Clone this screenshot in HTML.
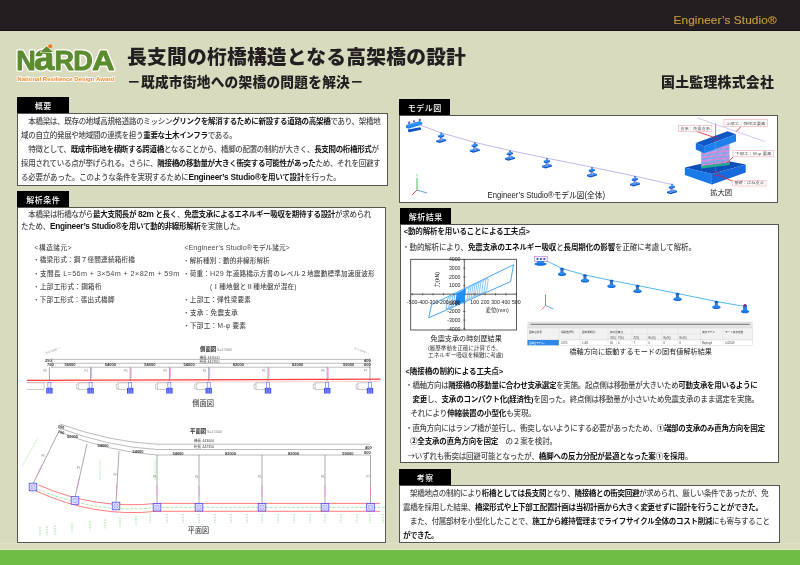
<!DOCTYPE html>
<html lang="ja"><head><meta charset="utf-8">
<title>長支間の桁橋構造となる高架橋の設計</title>
<style>
*{margin:0;padding:0;box-sizing:border-box}
html,body{width:800px;height:565px;overflow:hidden}
body{background:#d9dbbf;position:relative;font-family:"Liberation Sans","Noto Sans CJK JP",sans-serif;color:#4a4a4a}
.a{position:absolute}
#hdr{left:0;top:0;width:800px;height:31px;background:#231f20;border-bottom:1px solid #151112}
#es{left:673.5px;top:12.6px;font-size:11.8px;color:#c99a3e;white-space:nowrap;letter-spacing:0.1px;-webkit-text-stroke:0.15px #c99a3e}
#title{left:127px;top:41px;font-size:19.8px;font-weight:900;color:#231f20;white-space:nowrap;letter-spacing:0.2px}
#sub{left:127px;top:71px;font-size:13.7px;font-weight:900;letter-spacing:0.25px;color:#231f20;white-space:nowrap}
#co{left:661px;top:71px;font-size:13.9px;font-weight:900;letter-spacing:0.25px;color:#231f20;white-space:nowrap}
.box{position:absolute;background:#fff;border:1px solid #55554e}
.tab{position:absolute;background:#000;color:#fff;font-size:8px;letter-spacing:0.5px;text-indent:0.5px;text-align:center;font-weight:500;line-height:15px;height:16px;padding-top:2.2px}
.t{position:absolute;white-space:nowrap;line-height:10px;height:10px;font-weight:500}
.en{font-size:1.1em}
.jp{font-family:"Noto Sans CJK JP",sans-serif}
.t b{color:#111}
.j{text-align:justify;text-align-last:justify}
#foot{left:0;top:550px;width:800px;height:15px;background:#70bd46}
#band{left:0;top:543px;width:800px;height:7px;background:linear-gradient(#e6e9cc 0,#dadcc0 15%,#dadcc0 55%,#dddbc0 80%,#e4ead0 100%)}
.cap{position:absolute;white-space:nowrap;color:#222}
</style></head>
<body>
<div id="hdr" class="a"></div>
<div id="es" class="a">Engineer’s Studio®</div>



<div id="title" class="a">長支間の桁橋構造となる高架橋の設計</div>
<div id="sub" class="a">－既成市街地への架橋の問題を解決－</div>
<div id="co" class="a">国土監理株式会社</div>

<!-- boxes -->
<div class="box" style="left:17px;top:113px;width:371px;height:73px"></div>
<div class="tab" style="left:17px;top:97px;width:52px">概要</div>

<div class="box" style="left:17px;top:207px;width:369px;height:336px"></div>
<div class="tab" style="left:17px;top:191px;width:52px">解析条件</div>

<div class="box" style="left:399px;top:115px;width:379px;height:88px"></div>
<div class="tab" style="left:399px;top:99px;width:51px">モデル図</div>

<div class="box" style="left:400px;top:224px;width:379px;height:239px"></div>
<div class="tab" style="left:400px;top:208px;width:51px">解析結果</div>

<div class="box" style="left:399px;top:485px;width:381px;height:58px"></div>
<div class="tab" style="left:399px;top:469px;width:52px">考察</div>

<svg class="a" style="left:0;top:0" width="800" height="565" viewBox="0 0 800 565" font-family="Liberation Sans, Noto Sans CJK JP, sans-serif">
<path d="M420,125 L441.2,132.8 L474.8,142.4 L510,150.5 L547,158.2 L592,167.2 L635,176.2 L672,184.5" fill="none" stroke="#b3a6e6" stroke-width="0.8"/>
<path d="M436.2,140.4 L442.7,138.4 L446.2,139.60000000000002 L439.7,141.60000000000002 Z" fill="#2a86f0"/>
<path d="M436.2,140.4 L439.7,141.60000000000002 L446.2,139.60000000000002 L446.2,141.10000000000002 L439.7,143.10000000000002 L436.2,141.9 Z" fill="#1058c8"/>
<rect x="439.9" y="136.60000000000002" width="2.6" height="3.6" fill="#9aa6dc"/>
<rect x="439.9" y="136.60000000000002" width="1" height="3.6" fill="#7f7fc8"/>
<path d="M438.0,135.4 L441.8,134.0 L444.2,134.8 L440.4,136.20000000000002 Z" fill="#2a8af2"/>
<path d="M438.0,135.4 L440.4,136.20000000000002 L444.2,134.8 L444.2,136.4 L440.4,137.8 L438.0,137.0 Z" fill="#1463d8"/>
<rect x="440.3" y="132.60000000000002" width="1.8" height="1.8" fill="#3b7ee0"/>
<path d="M469.8,150.0 L476.3,148.0 L479.8,149.20000000000002 L473.3,151.20000000000002 Z" fill="#2a86f0"/>
<path d="M469.8,150.0 L473.3,151.20000000000002 L479.8,149.20000000000002 L479.8,150.70000000000002 L473.3,152.70000000000002 L469.8,151.5 Z" fill="#1058c8"/>
<rect x="473.5" y="146.20000000000002" width="2.6" height="3.6" fill="#9aa6dc"/>
<rect x="473.5" y="146.20000000000002" width="1" height="3.6" fill="#7f7fc8"/>
<path d="M471.6,145.0 L475.40000000000003,143.6 L477.8,144.4 L474.0,145.8 Z" fill="#2a8af2"/>
<path d="M471.6,145.0 L474.0,145.8 L477.8,144.4 L477.8,146.0 L474.0,147.4 L471.6,146.6 Z" fill="#1463d8"/>
<rect x="473.90000000000003" y="142.20000000000002" width="1.8" height="1.8" fill="#3b7ee0"/>
<path d="M505,158.1 L511.5,156.1 L515,157.3 L508.5,159.3 Z" fill="#2a86f0"/>
<path d="M505,158.1 L508.5,159.3 L515,157.3 L515,158.8 L508.5,160.8 L505,159.6 Z" fill="#1058c8"/>
<rect x="508.7" y="154.3" width="2.6" height="3.6" fill="#9aa6dc"/>
<rect x="508.7" y="154.3" width="1" height="3.6" fill="#7f7fc8"/>
<path d="M506.8,153.1 L510.6,151.7 L513,152.5 L509.2,153.9 Z" fill="#2a8af2"/>
<path d="M506.8,153.1 L509.2,153.9 L513,152.5 L513,154.1 L509.2,155.5 L506.8,154.7 Z" fill="#1463d8"/>
<rect x="509.1" y="150.3" width="1.8" height="1.8" fill="#3b7ee0"/>
<path d="M542,165.79999999999998 L548.5,163.79999999999998 L552,165.0 L545.5,167.0 Z" fill="#2a86f0"/>
<path d="M542,165.79999999999998 L545.5,167.0 L552,165.0 L552,166.5 L545.5,168.5 L542,167.29999999999998 Z" fill="#1058c8"/>
<rect x="545.7" y="162.0" width="2.6" height="3.6" fill="#9aa6dc"/>
<rect x="545.7" y="162.0" width="1" height="3.6" fill="#7f7fc8"/>
<path d="M543.8,160.79999999999998 L547.6,159.39999999999998 L550,160.2 L546.2,161.6 Z" fill="#2a8af2"/>
<path d="M543.8,160.79999999999998 L546.2,161.6 L550,160.2 L550,161.79999999999998 L546.2,163.2 L543.8,162.39999999999998 Z" fill="#1463d8"/>
<rect x="546.1" y="158.0" width="1.8" height="1.8" fill="#3b7ee0"/>
<path d="M587,174.79999999999998 L593.5,172.79999999999998 L597,174.0 L590.5,176.0 Z" fill="#2a86f0"/>
<path d="M587,174.79999999999998 L590.5,176.0 L597,174.0 L597,175.5 L590.5,177.5 L587,176.29999999999998 Z" fill="#1058c8"/>
<rect x="590.7" y="171.0" width="2.6" height="3.6" fill="#9aa6dc"/>
<rect x="590.7" y="171.0" width="1" height="3.6" fill="#7f7fc8"/>
<path d="M588.8,169.79999999999998 L592.6,168.39999999999998 L595,169.2 L591.2,170.6 Z" fill="#2a8af2"/>
<path d="M588.8,169.79999999999998 L591.2,170.6 L595,169.2 L595,170.79999999999998 L591.2,172.2 L588.8,171.39999999999998 Z" fill="#1463d8"/>
<rect x="591.1" y="167.0" width="1.8" height="1.8" fill="#3b7ee0"/>
<path d="M630,183.79999999999998 L636.5,181.79999999999998 L640,183.0 L633.5,185.0 Z" fill="#2a86f0"/>
<path d="M630,183.79999999999998 L633.5,185.0 L640,183.0 L640,184.5 L633.5,186.5 L630,185.29999999999998 Z" fill="#1058c8"/>
<rect x="633.7" y="180.0" width="2.6" height="3.6" fill="#9aa6dc"/>
<rect x="633.7" y="180.0" width="1" height="3.6" fill="#7f7fc8"/>
<path d="M631.8,178.79999999999998 L635.6,177.39999999999998 L638,178.2 L634.2,179.6 Z" fill="#2a8af2"/>
<path d="M631.8,178.79999999999998 L634.2,179.6 L638,178.2 L638,179.79999999999998 L634.2,181.2 L631.8,180.39999999999998 Z" fill="#1463d8"/>
<rect x="634.1" y="176.0" width="1.8" height="1.8" fill="#3b7ee0"/>
<path d="M408,129.6 L420,127.2 L421,128.2 L421,129.8 L409,132.2 L408,131.2 Z" fill="#0f50c2"/>
<path d="M406,125.2 L419.5,121.2 L422.2,122.4 L422.2,124.6 L408.6,128.8 L406,127.8 Z" fill="#1e88f0"/>
<path d="M406,125.2 L419.5,121.2 L422.2,122.4 L408.6,126.4 Z" fill="#2f95f4"/>
<rect x="408.2" y="121.6" width="2" height="2.4" rx="0.6" fill="#6a5ad0"/>
<rect x="413" y="120.2" width="2" height="2.4" rx="0.6" fill="#6a5ad0"/>
<rect x="418.8" y="118.8" width="2" height="2.4" rx="0.6" fill="#6a5ad0"/>
<path d="M667,191.6 L673.5,189.6 L677,190.8 L670.5,192.8 Z" fill="#2a86f0"/>
<path d="M667,191.6 L670.5,192.8 L677,190.8 L677,192.3 L670.5,194.3 L667,193.1 Z" fill="#1058c8"/>
<rect x="670.7" y="187.8" width="2.6" height="3.6" fill="#9aa6dc"/>
<rect x="670.7" y="187.8" width="1" height="3.6" fill="#7f7fc8"/>
<path d="M668.8,186.6 L672.6,185.2 L675,186 L671.2,187.4 Z" fill="#2a8af2"/>
<path d="M668.8,186.6 L671.2,187.4 L675,186 L675,187.6 L671.2,189 L668.8,188.2 Z" fill="#1463d8"/>
<rect x="671.1" y="183.8" width="1.8" height="1.8" fill="#3b7ee0"/>
<line x1="417" y1="190" x2="417" y2="178" stroke="#3db34a" stroke-width="0.9"/>
<line x1="417" y1="190" x2="412" y2="195" stroke="#e84040" stroke-width="0.9"/>
<line x1="417" y1="190" x2="427" y2="193" stroke="#4a90e0" stroke-width="0.9"/>
<text x="416" y="177" font-size="3" fill="#3db34a">Y</text>
<text x="487.5" y="198" font-size="8.4" fill="#222" textLength="117.5" lengthAdjust="spacingAndGlyphs">Engineer’s Studio®モデル図(全体)</text>
<line x1="697.5" y1="118" x2="765" y2="141.5" stroke="#c6bcef" stroke-width="0.8"/>
<line x1="715.6" y1="123.5" x2="715.6" y2="138" stroke="#4fb8f0" stroke-width="1"/>
<path d="M684.8,167.6 L720,159.6 L745.7,164.6 L711.9,174 Z" fill="#0c4fb8"/>
<path d="M684.8,167.6 L711.9,174 L711.9,184.6 L684.8,175 Z" fill="#1a7be8"/>
<path d="M711.9,174 L745.7,164.6 L745.7,172.5 L711.9,184.6 Z" fill="#1769dc"/>
<path d="M701.2,147.50 L729.5,143.90 L729.5,146.05 L701.2,149.65 Z" fill="#7fa6ea"/>
<path d="M701.2,149.35 L729.5,145.75 L729.5,147.90 L701.2,151.50 Z" fill="#d08ad6"/>
<path d="M701.2,151.20 L729.5,147.60 L729.5,149.75 L701.2,153.35 Z" fill="#7fa6ea"/>
<path d="M701.2,153.05 L729.5,149.45 L729.5,151.60 L701.2,155.20 Z" fill="#d08ad6"/>
<path d="M701.2,154.90 L729.5,151.30 L729.5,153.45 L701.2,157.05 Z" fill="#7fa6ea"/>
<path d="M701.2,156.75 L729.5,153.15 L729.5,155.30 L701.2,158.90 Z" fill="#d08ad6"/>
<path d="M701.2,158.60 L729.5,155.00 L729.5,157.15 L701.2,160.75 Z" fill="#7fa6ea"/>
<path d="M701.2,160.45 L729.5,156.85 L729.5,159.00 L701.2,162.60 Z" fill="#d08ad6"/>
<path d="M701.2,162.30 L729.5,158.70 L729.5,160.85 L701.2,164.45 Z" fill="#7fa6ea"/>
<path d="M701.2,164.15 L729.5,160.55 L729.5,162.70 L701.2,166.30 Z" fill="#d08ad6"/>
<path d="M701.2,166.00 L729.5,162.40 L729.5,165.00 L701.2,168.60 Z" fill="#22b08a"/>
<path d="M695.8,143 L727.5,131.2 L736,134.2 L704.2,146.3 Z" fill="#1157c4"/>
<path d="M695.8,143 L704.2,146.3 L704.2,153.2 L695.8,149.6 Z" fill="#1a6fdc"/>
<path d="M704.2,146.3 L736,134.2 L736,141.5 L704.2,153.2 Z" fill="#1f80ec"/>
<line x1="715.6" y1="140" x2="715.6" y2="172" stroke="#9fb8e8" stroke-width="0.6" stroke-dasharray="1,1.5"/>
<g stroke="#e02020" stroke-width="0.8" fill="none"><line x1="697" y1="131.5" x2="713.5" y2="137.2"/><line x1="741" y1="126.5" x2="736" y2="131.8"/><line x1="733" y1="157" x2="727" y2="163"/><line x1="733" y1="181.5" x2="717.5" y2="174.5"/><circle cx="715.6" cy="138.3" r="2.2" stroke="#d02040" stroke-width="0.5"/><circle cx="715.6" cy="173.8" r="2.2" stroke="#d02040" stroke-width="0.5"/></g>
<rect x="678.3" y="125.3" width="33.60000000000002" height="6.000000000000014" fill="#fff" stroke="#f0a8b0" stroke-width="0.6"/>
<text x="695.0999999999999" y="129.70000000000002" font-size="3.9" fill="#555" text-anchor="middle" textLength="29.600000000000023" lengthAdjust="spacingAndGlyphs">支承：免震支承</text>
<rect x="723.9" y="119.5" width="43.60000000000002" height="6.799999999999997" fill="#fff" stroke="#f0a8b0" stroke-width="0.6"/>
<text x="745.7" y="124.7" font-size="3.9" fill="#555" text-anchor="middle" textLength="39.60000000000002" lengthAdjust="spacingAndGlyphs">上部工：弾性梁要素</text>
<rect x="732.9" y="150.6" width="40.60000000000002" height="6.200000000000017" fill="#fff" stroke="#f0a8b0" stroke-width="0.6"/>
<text x="753.2" y="155.20000000000002" font-size="3.9" fill="#555" text-anchor="middle" textLength="36.60000000000002" lengthAdjust="spacingAndGlyphs">下部工：M-φ 要素</text>
<rect x="732.2" y="180.4" width="33.799999999999955" height="5.599999999999994" fill="#fff" stroke="#f0a8b0" stroke-width="0.6"/>
<text x="749.1" y="184.4" font-size="3.9" fill="#555" text-anchor="middle" textLength="29.799999999999955" lengthAdjust="spacingAndGlyphs">基礎：ばね支点</text>
<text x="710.2" y="194.6" font-size="7.4" fill="#222" textLength="22" lengthAdjust="spacingAndGlyphs">拡大図</text>
<rect x="410.7" y="259.3" width="105.69999999999999" height="70.69999999999999" fill="#fff" stroke="#333" stroke-width="0.8"/>
<line x1="464.3" y1="259.3" x2="464.3" y2="330" stroke="#333" stroke-width="0.8"/>
<line x1="410.7" y1="294.2" x2="516.4" y2="294.2" stroke="#333" stroke-width="0.8"/>
<line x1="412.3" y1="293.0" x2="412.3" y2="295.4" stroke="#333" stroke-width="0.6"/>
<line x1="422.7" y1="293.0" x2="422.7" y2="295.4" stroke="#333" stroke-width="0.6"/>
<line x1="433.1" y1="293.0" x2="433.1" y2="295.4" stroke="#333" stroke-width="0.6"/>
<line x1="443.5" y1="293.0" x2="443.5" y2="295.4" stroke="#333" stroke-width="0.6"/>
<line x1="453.9" y1="293.0" x2="453.9" y2="295.4" stroke="#333" stroke-width="0.6"/>
<line x1="464.3" y1="293.0" x2="464.3" y2="295.4" stroke="#333" stroke-width="0.6"/>
<line x1="474.7" y1="293.0" x2="474.7" y2="295.4" stroke="#333" stroke-width="0.6"/>
<line x1="485.1" y1="293.0" x2="485.1" y2="295.4" stroke="#333" stroke-width="0.6"/>
<line x1="495.5" y1="293.0" x2="495.5" y2="295.4" stroke="#333" stroke-width="0.6"/>
<line x1="505.9" y1="293.0" x2="505.9" y2="295.4" stroke="#333" stroke-width="0.6"/>
<line x1="516.3" y1="293.0" x2="516.3" y2="295.4" stroke="#333" stroke-width="0.6"/>
<line x1="463.1" y1="328.8" x2="465.5" y2="328.8" stroke="#333" stroke-width="0.6"/>
<line x1="463.1" y1="320.1" x2="465.5" y2="320.1" stroke="#333" stroke-width="0.6"/>
<line x1="463.1" y1="311.5" x2="465.5" y2="311.5" stroke="#333" stroke-width="0.6"/>
<line x1="463.1" y1="302.8" x2="465.5" y2="302.8" stroke="#333" stroke-width="0.6"/>
<line x1="463.1" y1="294.2" x2="465.5" y2="294.2" stroke="#333" stroke-width="0.6"/>
<line x1="463.1" y1="285.6" x2="465.5" y2="285.6" stroke="#333" stroke-width="0.6"/>
<line x1="463.1" y1="276.9" x2="465.5" y2="276.9" stroke="#333" stroke-width="0.6"/>
<line x1="463.1" y1="268.2" x2="465.5" y2="268.2" stroke="#333" stroke-width="0.6"/>
<line x1="463.1" y1="259.6" x2="465.5" y2="259.6" stroke="#333" stroke-width="0.6"/>
<path d="M428.7,317.8 L431.6,304.6 L513.5,264.8 L510.6,281.6 Z" fill="none" stroke="#1f8ef0" stroke-width="0.8"/>
<line x1="447.8" y1="298.6" x2="446.2" y2="308.7" stroke="#1f8ef0" stroke-width="0.6"/>
<line x1="450.3" y1="297.4" x2="448.7" y2="307.6" stroke="#1f8ef0" stroke-width="0.6"/>
<line x1="452.8" y1="296.2" x2="451.2" y2="306.5" stroke="#1f8ef0" stroke-width="0.6"/>
<line x1="454.8" y1="295.2" x2="453.2" y2="305.6" stroke="#1f8ef0" stroke-width="0.6"/>
<path d="M447.8,298.2 L454.8,294.8 M446.2,309.1 L453.2,306.0" stroke="#1f8ef0" stroke-width="0.6"/>
<path d="M456.5,293.3 L466,288.7 L464.5,301.5 L455,305.7 Z" fill="#1f8ef0"/>
<line x1="468.8" y1="288.1" x2="467.2" y2="299.2" stroke="#1f8ef0" stroke-width="0.5"/>
<line x1="470.8" y1="287.1" x2="469.2" y2="298.3" stroke="#1f8ef0" stroke-width="0.5"/>
<line x1="472.8" y1="286.2" x2="471.2" y2="297.5" stroke="#1f8ef0" stroke-width="0.5"/>
<line x1="474.8" y1="285.2" x2="473.2" y2="296.6" stroke="#1f8ef0" stroke-width="0.5"/>
<line x1="476.8" y1="284.2" x2="475.2" y2="295.7" stroke="#1f8ef0" stroke-width="0.5"/>
<line x1="478.8" y1="283.3" x2="477.2" y2="294.8" stroke="#1f8ef0" stroke-width="0.5"/>
<line x1="480.8" y1="282.3" x2="479.2" y2="293.9" stroke="#1f8ef0" stroke-width="0.5"/>
<line x1="483.3" y1="281.1" x2="481.7" y2="292.8" stroke="#1f8ef0" stroke-width="0.5"/>
<line x1="485.8" y1="279.8" x2="484.2" y2="291.7" stroke="#1f8ef0" stroke-width="0.5"/>
<line x1="488.3" y1="278.6" x2="486.7" y2="290.6" stroke="#1f8ef0" stroke-width="0.5"/>
<path d="M466,289.1 L488.3,278.2 M464.5,300.8 L486.7,291.0" stroke="#1f8ef0" stroke-width="0.5"/>
<text x="460.5" y="261.4" font-size="5.2" fill="#222" text-anchor="end">4000</text>
<text x="460.5" y="270.1" font-size="5.2" fill="#222" text-anchor="end">3000</text>
<text x="460.5" y="278.7" font-size="5.2" fill="#222" text-anchor="end">2000</text>
<text x="460.5" y="287.4" font-size="5.2" fill="#222" text-anchor="end">1000</text>
<text x="460.5" y="304.6" font-size="5.2" fill="#222" text-anchor="end">-1000</text>
<text x="460.5" y="313.3" font-size="5.2" fill="#222" text-anchor="end">-2000</text>
<text x="460.5" y="321.9" font-size="5.2" fill="#222" text-anchor="end">-3000</text>
<text x="460.5" y="330.6" font-size="5.2" fill="#222" text-anchor="end">-4000</text>
<text x="412.3" y="303.6" font-size="5.2" fill="#222" text-anchor="middle">-500</text>
<text x="422.7" y="303.6" font-size="5.2" fill="#222" text-anchor="middle">-400</text>
<text x="433.1" y="303.6" font-size="5.2" fill="#222" text-anchor="middle">-300</text>
<text x="443.5" y="303.6" font-size="5.2" fill="#222" text-anchor="middle">-200</text>
<text x="453.9" y="303.6" font-size="5.2" fill="#222" text-anchor="middle">-100</text>
<text x="474.7" y="303.6" font-size="5.2" fill="#222" text-anchor="middle">100</text>
<text x="485.1" y="303.6" font-size="5.2" fill="#222" text-anchor="middle">200</text>
<text x="495.5" y="303.6" font-size="5.2" fill="#222" text-anchor="middle">300</text>
<text x="505.9" y="303.6" font-size="5.2" fill="#222" text-anchor="middle">400</text>
<text x="516.3" y="303.6" font-size="5.2" fill="#222" text-anchor="middle">500</text>
<text x="0" y="0" font-size="5.4" fill="#222" transform="translate(439.3,287.5) rotate(-90)">力(kN)</text>
<text x="485.5" y="311.6" font-size="5.4" fill="#222">変位(mm)</text>
<text x="430.6" y="340.9" font-size="7.2" fill="#222" textLength="71.3" lengthAdjust="spacingAndGlyphs">免震支承の時刻歴結果</text>
<text x="428" y="349.6" font-size="5.3" fill="#333" textLength="73.2" lengthAdjust="spacingAndGlyphs">(履歴挙動を正確に計算でき、</text>
<text x="428" y="357.4" font-size="5.3" fill="#333" textLength="75.5" lengthAdjust="spacingAndGlyphs">エネルギー吸収を精緻に考慮)</text>
<path d="M547,261 L562,268.5 L585,275 L611.5,280.5 L637.5,285.5 L677.5,293.5 L716.4,301.5 L745,306.5" fill="none" stroke="#3fb0ee" stroke-width="0.9"/>
<ellipse cx="562" cy="274.3" rx="4.2" ry="1.8" fill="#1a6fe0"/>
<ellipse cx="562" cy="273.4" rx="3.2" ry="1.2" fill="#2b8ef0"/>
<rect x="560.5" y="269.0" width="3" height="4.2" fill="#2a80e8"/>
<path d="M559.4,268.9 L562,267.5 L564.6,268.9 L562,270.3 Z" fill="#1a5fc8"/>
<circle cx="561.4" cy="270.9" r="0.8" fill="#5d6b8a"/>
<ellipse cx="585" cy="280.8" rx="4.2" ry="1.8" fill="#1a6fe0"/>
<ellipse cx="585" cy="279.9" rx="3.2" ry="1.2" fill="#2b8ef0"/>
<rect x="583.5" y="275.5" width="3" height="4.2" fill="#2a80e8"/>
<path d="M582.4,275.4 L585,274 L587.6,275.4 L585,276.8 Z" fill="#1a5fc8"/>
<circle cx="584.4" cy="277.4" r="0.8" fill="#5d6b8a"/>
<ellipse cx="611.5" cy="286.3" rx="4.2" ry="1.8" fill="#1a6fe0"/>
<ellipse cx="611.5" cy="285.4" rx="3.2" ry="1.2" fill="#2b8ef0"/>
<rect x="610.0" y="281.0" width="3" height="4.2" fill="#2a80e8"/>
<path d="M608.9,280.9 L611.5,279.5 L614.1,280.9 L611.5,282.3 Z" fill="#1a5fc8"/>
<circle cx="610.9" cy="282.9" r="0.8" fill="#5d6b8a"/>
<ellipse cx="637.5" cy="291.3" rx="4.2" ry="1.8" fill="#1a6fe0"/>
<ellipse cx="637.5" cy="290.4" rx="3.2" ry="1.2" fill="#2b8ef0"/>
<rect x="636.0" y="286.0" width="3" height="4.2" fill="#2a80e8"/>
<path d="M634.9,285.9 L637.5,284.5 L640.1,285.9 L637.5,287.3 Z" fill="#1a5fc8"/>
<circle cx="636.9" cy="287.9" r="0.8" fill="#5d6b8a"/>
<ellipse cx="677.5" cy="299.3" rx="4.2" ry="1.8" fill="#1a6fe0"/>
<ellipse cx="677.5" cy="298.4" rx="3.2" ry="1.2" fill="#2b8ef0"/>
<rect x="676.0" y="294.0" width="3" height="4.2" fill="#2a80e8"/>
<path d="M674.9,293.9 L677.5,292.5 L680.1,293.9 L677.5,295.3 Z" fill="#1a5fc8"/>
<circle cx="676.9" cy="295.9" r="0.8" fill="#5d6b8a"/>
<ellipse cx="716.4" cy="307.3" rx="4.2" ry="1.8" fill="#1a6fe0"/>
<ellipse cx="716.4" cy="306.4" rx="3.2" ry="1.2" fill="#2b8ef0"/>
<rect x="714.9" y="302.0" width="3" height="4.2" fill="#2a80e8"/>
<path d="M713.8,301.9 L716.4,300.5 L719.0,301.9 L716.4,303.3 Z" fill="#1a5fc8"/>
<circle cx="715.8" cy="303.9" r="0.8" fill="#5d6b8a"/>
<rect x="534.5" y="256.5" width="13" height="5" fill="#f4eefa" stroke="#b07cc0" stroke-width="0.6"/>
<circle cx="537.5" cy="259" r="1.1" fill="#2a4fd0"/>
<circle cx="540.9" cy="259" r="1.1" fill="#2a4fd0"/>
<circle cx="544.3" cy="259" r="1.1" fill="#2a4fd0"/>
<ellipse cx="540.5" cy="264" rx="6" ry="1.8" fill="#1a6fe0"/>
<rect x="537" y="261" width="7" height="2.5" fill="#2a86ee"/>
<ellipse cx="745" cy="311.5" rx="4" ry="1.8" fill="#1a6fe0"/>
<rect x="743" y="305" width="4" height="6" fill="#2a80e8"/>
<circle cx="745" cy="305.5" r="1.4" fill="#8a2a6a"/>
<line x1="545.5" y1="305.5" x2="545.5" y2="294.5" stroke="#3db34a" stroke-width="0.9"/>
<line x1="545.5" y1="305.5" x2="541.5" y2="309.8" stroke="#e85050" stroke-width="0.8"/>
<line x1="545.5" y1="305.5" x2="553.5" y2="309" stroke="#4a90e0" stroke-width="0.8"/>
<rect x="527.5" y="321.5" width="225.20000000000005" height="6.5" fill="#e4e4e4"/>
<line x1="530.5" y1="324.3" x2="749.7" y2="324.3" stroke="#555" stroke-width="0.8"/>
<rect x="527.5" y="328" width="225.20000000000005" height="12" fill="#f2f2f2" stroke="#cfcfcf" stroke-width="0.4"/>
<rect x="527.5" y="340" width="225.20000000000005" height="5.3" fill="#fff" stroke="#cfcfcf" stroke-width="0.4"/>
<rect x="527.5" y="340" width="31.5" height="5.3" fill="#2f88e8"/>
<line x1="559" y1="328" x2="559" y2="345.3" stroke="#d4d4d4" stroke-width="0.4"/>
<line x1="580" y1="328" x2="580" y2="345.3" stroke="#d4d4d4" stroke-width="0.4"/>
<line x1="608" y1="328" x2="608" y2="345.3" stroke="#d4d4d4" stroke-width="0.4"/>
<line x1="616.5" y1="328" x2="616.5" y2="345.3" stroke="#d4d4d4" stroke-width="0.4"/>
<line x1="632" y1="328" x2="632" y2="345.3" stroke="#d4d4d4" stroke-width="0.4"/>
<line x1="647" y1="328" x2="647" y2="345.3" stroke="#d4d4d4" stroke-width="0.4"/>
<line x1="662" y1="328" x2="662" y2="345.3" stroke="#d4d4d4" stroke-width="0.4"/>
<line x1="678" y1="328" x2="678" y2="345.3" stroke="#d4d4d4" stroke-width="0.4"/>
<line x1="700.5" y1="328" x2="700.5" y2="345.3" stroke="#d4d4d4" stroke-width="0.4"/>
<line x1="723" y1="328" x2="723" y2="345.3" stroke="#d4d4d4" stroke-width="0.4"/>
<line x1="608" y1="334" x2="700.5" y2="334" stroke="#d4d4d4" stroke-width="0.4"/>
<text x="529" y="332.5" font-size="2.6" fill="#444">固有値解析</text>
<text x="561" y="332.5" font-size="2.6" fill="#444">振動数(Hz)</text>
<text x="582" y="332.5" font-size="2.6" fill="#444">固有周期(s)</text>
<text x="610" y="332.5" font-size="2.6" fill="#444">有効質量比</text>
<text x="702" y="332.5" font-size="2.6" fill="#444">減衰モデル</text>
<text x="725" y="332.5" font-size="2.6" fill="#444">モード減衰定数</text>
<text x="610" y="338.5" font-size="2.6" fill="#444">X(%)</text>
<text x="618" y="338.5" font-size="2.6" fill="#444">Y(%)</text>
<text x="633.5" y="338.5" font-size="2.6" fill="#444">Z(%)</text>
<text x="648.5" y="338.5" font-size="2.6" fill="#444">Rx(%)</text>
<text x="663.5" y="338.5" font-size="2.6" fill="#444">Ry(%)</text>
<text x="679.5" y="338.5" font-size="2.6" fill="#444">Rz(%)</text>
<text x="561" y="344" font-size="2.6" fill="#444">0.675</text>
<text x="582" y="344" font-size="2.6" fill="#444">1.481</text>
<text x="610" y="344" font-size="2.6" fill="#444">46</text>
<text x="618" y="344" font-size="2.6" fill="#444">0</text>
<text x="633.5" y="344" font-size="2.6" fill="#444">7</text>
<text x="648.5" y="344" font-size="2.6" fill="#444">0</text>
<text x="663.5" y="344" font-size="2.6" fill="#444">0</text>
<text x="679.5" y="344" font-size="2.6" fill="#444">0</text>
<text x="702" y="344" font-size="2.6" fill="#444">Rayleigh</text>
<text x="725" y="344" font-size="2.6" fill="#444">0.02549</text>
<text x="529" y="344" font-size="2.4" fill="#fff">固有値モデル1</text>
<text x="569.5" y="354.2" font-size="7.3" fill="#222" textLength="142.5" lengthAdjust="spacingAndGlyphs">橋軸方向に振動するモードの固有値解析結果</text>
<text x="200" y="350.5" font-size="5.4" fill="#333" font-weight="bold">側面図</text>
<text x="217" y="350.5" font-size="3.4" fill="#777">S=1:1000</text>
<text x="199.4" y="358.8" font-size="3.6" fill="#444">橋長 443000</text>
<text x="199.4" y="363" font-size="3.6" fill="#444">桁長 442350</text>
<g stroke="#777" stroke-width="0.5" fill="none"><line x1="51.9" y1="359.4" x2="369.8" y2="359.4"/><line x1="51.9" y1="363.3" x2="369.8" y2="363.3"/><line x1="51.9" y1="367.2" x2="369.8" y2="367.2"/><line x1="51.9" y1="358" x2="51.9" y2="368"/><line x1="369.8" y1="358" x2="369.8" y2="368"/></g>
<text x="45" y="362.2" font-size="4" fill="#333" font-weight="bold">250</text>
<text x="47" y="366.4" font-size="4" fill="#333" font-weight="bold">750</text>
<text x="364" y="362.2" font-size="4" fill="#333" font-weight="bold">400</text>
<text x="364" y="366.4" font-size="4" fill="#333" font-weight="bold">600</text>
<text x="70.0" y="366.4" font-size="4" fill="#333" text-anchor="middle" font-weight="bold">56000</text>
<text x="110.4" y="366.4" font-size="4" fill="#333" text-anchor="middle" font-weight="bold">54000</text>
<text x="149.8" y="366.4" font-size="4" fill="#333" text-anchor="middle" font-weight="bold">54000</text>
<text x="189.1" y="366.4" font-size="4" fill="#333" text-anchor="middle" font-weight="bold">54000</text>
<text x="238.3" y="366.4" font-size="4" fill="#333" text-anchor="middle" font-weight="bold">82000</text>
<text x="297.6" y="366.4" font-size="4" fill="#333" text-anchor="middle" font-weight="bold">82000</text>
<text x="348.6" y="366.4" font-size="4" fill="#333" text-anchor="middle" font-weight="bold">59000</text>
<line x1="27" y1="380.4" x2="380.5" y2="379.2" stroke="#ff3b3b" stroke-width="1.3"/>
<line x1="27" y1="382.6" x2="380.5" y2="381.4" stroke="#ffb0b0" stroke-width="0.6"/>
<line x1="49.4" y1="367.2" x2="49.4" y2="381" stroke="#555" stroke-width="0.5"/>
<text x="43.4" y="371.5" font-size="2.8" fill="#888">P0</text>
<rect x="47.9" y="382.5" width="3" height="5.5" fill="none" stroke="#5a6cf0" stroke-width="0.6"/>
<rect x="46.199999999999996" y="388" width="6.4" height="5.5" fill="#4050f0"/>
<path d="M47.8,388.5 V393 M49.4,388.5 V393 M51.0,388.5 V393" stroke="#c8d0ff" stroke-width="0.5"/>
<line x1="90.6" y1="367.2" x2="90.6" y2="381" stroke="#555" stroke-width="0.5"/>
<line x1="91.6" y1="368" x2="91.6" y2="378" stroke="#ff66dd" stroke-width="0.9" stroke-dasharray="1.2,0.6"/>
<text x="84.6" y="371.5" font-size="2.8" fill="#888">P1</text>
<path d="M89.1,382.8 L78.6,382.8 L78.6,389.5 L89.1,389.5" fill="none" stroke="#888" stroke-width="0.45"/>
<path d="M78.6,383.8 L76.6,384.5 L76.6,388.5 L78.6,389" fill="none" stroke="#888" stroke-width="0.45"/>
<rect x="89.1" y="382.5" width="3" height="5.5" fill="none" stroke="#5a6cf0" stroke-width="0.6"/>
<rect x="87.39999999999999" y="388" width="6.4" height="5.5" fill="#4050f0"/>
<path d="M89.0,388.5 V393 M90.6,388.5 V393 M92.19999999999999,388.5 V393" stroke="#c8d0ff" stroke-width="0.5"/>
<line x1="130.2" y1="367.2" x2="130.2" y2="381" stroke="#555" stroke-width="0.5"/>
<line x1="131.2" y1="368" x2="131.2" y2="378" stroke="#ff66dd" stroke-width="0.9" stroke-dasharray="1.2,0.6"/>
<text x="124.19999999999999" y="371.5" font-size="2.8" fill="#888">P2</text>
<path d="M128.7,382.8 L118.19999999999999,382.8 L118.19999999999999,389.5 L128.7,389.5" fill="none" stroke="#888" stroke-width="0.45"/>
<path d="M118.19999999999999,383.8 L116.19999999999999,384.5 L116.19999999999999,388.5 L118.19999999999999,389" fill="none" stroke="#888" stroke-width="0.45"/>
<rect x="128.7" y="382.5" width="3" height="5.5" fill="none" stroke="#5a6cf0" stroke-width="0.6"/>
<rect x="126.99999999999999" y="388" width="6.4" height="5.5" fill="#4050f0"/>
<path d="M128.6,388.5 V393 M130.2,388.5 V393 M131.79999999999998,388.5 V393" stroke="#c8d0ff" stroke-width="0.5"/>
<line x1="169.4" y1="367.2" x2="169.4" y2="381" stroke="#555" stroke-width="0.5"/>
<line x1="170.4" y1="368" x2="170.4" y2="378" stroke="#ff66dd" stroke-width="0.9" stroke-dasharray="1.2,0.6"/>
<text x="163.4" y="371.5" font-size="2.8" fill="#888">P3</text>
<path d="M167.9,382.8 L157.4,382.8 L157.4,389.5 L167.9,389.5" fill="none" stroke="#888" stroke-width="0.45"/>
<path d="M157.4,383.8 L155.4,384.5 L155.4,388.5 L157.4,389" fill="none" stroke="#888" stroke-width="0.45"/>
<rect x="167.9" y="382.5" width="3" height="5.5" fill="none" stroke="#5a6cf0" stroke-width="0.6"/>
<rect x="166.20000000000002" y="388" width="6.4" height="5.5" fill="#4050f0"/>
<path d="M167.8,388.5 V393 M169.4,388.5 V393 M171.0,388.5 V393" stroke="#c8d0ff" stroke-width="0.5"/>
<line x1="208.7" y1="367.2" x2="208.7" y2="381" stroke="#555" stroke-width="0.5"/>
<line x1="209.7" y1="368" x2="209.7" y2="378" stroke="#ff66dd" stroke-width="0.9" stroke-dasharray="1.2,0.6"/>
<text x="202.7" y="371.5" font-size="2.8" fill="#888">P4</text>
<path d="M207.2,382.8 L196.7,382.8 L196.7,389.5 L207.2,389.5" fill="none" stroke="#888" stroke-width="0.45"/>
<path d="M196.7,383.8 L194.7,384.5 L194.7,388.5 L196.7,389" fill="none" stroke="#888" stroke-width="0.45"/>
<rect x="207.2" y="382.5" width="3" height="5.5" fill="none" stroke="#5a6cf0" stroke-width="0.6"/>
<rect x="205.5" y="388" width="6.4" height="5.5" fill="#4050f0"/>
<path d="M207.1,388.5 V393 M208.7,388.5 V393 M210.29999999999998,388.5 V393" stroke="#c8d0ff" stroke-width="0.5"/>
<line x1="268" y1="367.2" x2="268" y2="381" stroke="#555" stroke-width="0.5"/>
<line x1="269" y1="368" x2="269" y2="378" stroke="#ff66dd" stroke-width="0.9" stroke-dasharray="1.2,0.6"/>
<text x="262" y="371.5" font-size="2.8" fill="#888">P5</text>
<path d="M266.5,382.8 L256,382.8 L256,389.5 L266.5,389.5" fill="none" stroke="#888" stroke-width="0.45"/>
<path d="M256,383.8 L254,384.5 L254,388.5 L256,389" fill="none" stroke="#888" stroke-width="0.45"/>
<rect x="266.5" y="382.5" width="3" height="5.5" fill="none" stroke="#5a6cf0" stroke-width="0.6"/>
<rect x="264.8" y="388" width="6.4" height="5.5" fill="#4050f0"/>
<path d="M266.4,388.5 V393 M268,388.5 V393 M269.6,388.5 V393" stroke="#c8d0ff" stroke-width="0.5"/>
<line x1="327.2" y1="367.2" x2="327.2" y2="381" stroke="#555" stroke-width="0.5"/>
<line x1="328.2" y1="368" x2="328.2" y2="378" stroke="#ff66dd" stroke-width="0.9" stroke-dasharray="1.2,0.6"/>
<text x="321.2" y="371.5" font-size="2.8" fill="#888">P6</text>
<path d="M325.7,382.8 L315.2,382.8 L315.2,389.5 L325.7,389.5" fill="none" stroke="#888" stroke-width="0.45"/>
<path d="M315.2,383.8 L313.2,384.5 L313.2,388.5 L315.2,389" fill="none" stroke="#888" stroke-width="0.45"/>
<rect x="325.7" y="382.5" width="3" height="5.5" fill="none" stroke="#5a6cf0" stroke-width="0.6"/>
<rect x="324.0" y="388" width="6.4" height="5.5" fill="#4050f0"/>
<path d="M325.59999999999997,388.5 V393 M327.2,388.5 V393 M328.8,388.5 V393" stroke="#c8d0ff" stroke-width="0.5"/>
<line x1="370" y1="367.2" x2="370" y2="381" stroke="#555" stroke-width="0.5"/>
<text x="364" y="371.5" font-size="2.8" fill="#888">P7</text>
<path d="M368.5,382.8 L358,382.8 L358,389.5 L368.5,389.5" fill="none" stroke="#888" stroke-width="0.45"/>
<path d="M358,383.8 L356,384.5 L356,388.5 L358,389" fill="none" stroke="#888" stroke-width="0.45"/>
<rect x="368.5" y="382.5" width="3" height="5.5" fill="none" stroke="#5a6cf0" stroke-width="0.6"/>
<rect x="366.8" y="388" width="6.4" height="5.5" fill="#4050f0"/>
<path d="M368.4,388.5 V393 M370,388.5 V393 M371.6,388.5 V393" stroke="#c8d0ff" stroke-width="0.5"/>
<path d="M27,382.8 L44,382.8 L44,389.5 L27,389.5" fill="none" stroke="#888" stroke-width="0.45"/>
<text x="46" y="354" font-size="2.8" fill="#888" transform="rotate(-20 46 354)">S=1:1000 ~~</text>
<text x="354" y="349" font-size="2.8" fill="#888" transform="rotate(20 354 349)">S=1:1000 ~~</text>
<text x="192.3" y="406.3" font-size="7.8" fill="#2a2a2a" textLength="21.8" lengthAdjust="spacingAndGlyphs">側面図</text>
<text x="190" y="432.6" font-size="5.4" fill="#333" font-weight="bold">平面図</text>
<text x="207" y="432.6" font-size="3.4" fill="#777">S=1:1000</text>
<text x="194" y="442.3" font-size="3.6" fill="#444">橋長 443000</text>
<text x="194" y="447.6" font-size="3.6" fill="#444">桁長 442350</text>
<g stroke="#777" stroke-width="0.5" fill="none"><line x1="157" y1="444.2" x2="370" y2="444.2"/><line x1="157" y1="449.5" x2="370" y2="449.5"/><line x1="157" y1="455" x2="370" y2="455"/><path d="M60,424 Q110,442 157,444.2"/><path d="M58,431.5 Q110,452 157,455"/><path d="M59,428 Q110,447 157,449.5"/></g>
<text x="365" y="449" font-size="4" fill="#333" font-weight="bold">400</text>
<text x="57.5" y="427.4" font-size="4" fill="#333" font-weight="bold" transform="rotate(15 57.5 427.4)">250</text>
<text x="57.5" y="432.8" font-size="4" fill="#333" font-weight="bold" transform="rotate(15 57.5 432.8)">750</text>
<text x="364" y="454.3" font-size="4" fill="#333" font-weight="bold">600</text>
<line x1="58" y1="433" x2="33" y2="484" stroke="#555" stroke-width="0.5"/>
<line x1="41.8" y1="465.1" x2="36.8" y2="475.9" stroke="#ff66dd" stroke-width="0.8" stroke-dasharray="1,0.6"/>
<text x="41.5" y="457.0" font-size="2.8" fill="#888">P0</text>
<line x1="87" y1="444" x2="75" y2="497.5" stroke="#555" stroke-width="0.5"/>
<line x1="79.2" y1="477.7" x2="76.8" y2="489.0" stroke="#ff66dd" stroke-width="0.8" stroke-dasharray="1,0.6"/>
<text x="77.0" y="469.2" font-size="2.8" fill="#888">P1</text>
<line x1="119" y1="451" x2="116" y2="503" stroke="#555" stroke-width="0.5"/>
<line x1="117.0" y1="483.8" x2="116.5" y2="494.8" stroke="#ff66dd" stroke-width="0.8" stroke-dasharray="1,0.6"/>
<text x="113.5" y="475.5" font-size="2.8" fill="#888">P2</text>
<line x1="157" y1="455" x2="157" y2="504.2" stroke="#555" stroke-width="0.5"/>
<line x1="157.0" y1="485.9" x2="157.0" y2="496.4" stroke="#ff66dd" stroke-width="0.8" stroke-dasharray="1,0.6"/>
<text x="153.0" y="478.1" font-size="2.8" fill="#888">P3</text>
<line x1="199" y1="455" x2="199" y2="504.2" stroke="#555" stroke-width="0.5"/>
<line x1="199.0" y1="485.9" x2="199.0" y2="496.4" stroke="#ff66dd" stroke-width="0.8" stroke-dasharray="1,0.6"/>
<text x="195.0" y="478.1" font-size="2.8" fill="#888">P4</text>
<line x1="262" y1="455" x2="262" y2="504.2" stroke="#555" stroke-width="0.5"/>
<line x1="262.0" y1="485.9" x2="262.0" y2="496.4" stroke="#ff66dd" stroke-width="0.8" stroke-dasharray="1,0.6"/>
<text x="258.0" y="478.1" font-size="2.8" fill="#888">P5</text>
<line x1="325" y1="455" x2="325" y2="504.2" stroke="#555" stroke-width="0.5"/>
<line x1="325.0" y1="485.9" x2="325.0" y2="496.4" stroke="#ff66dd" stroke-width="0.8" stroke-dasharray="1,0.6"/>
<text x="321.0" y="478.1" font-size="2.8" fill="#888">P6</text>
<line x1="370.5" y1="455" x2="370.5" y2="504.2" stroke="#555" stroke-width="0.5"/>
<line x1="370.5" y1="485.9" x2="370.5" y2="496.4" stroke="#ff66dd" stroke-width="0.8" stroke-dasharray="1,0.6"/>
<text x="366.5" y="478.1" font-size="2.8" fill="#888">P7</text>
<text x="72.5" y="438.2" font-size="4" fill="#333" font-weight="bold" text-anchor="middle">56000</text>
<text x="103.0" y="447.2" font-size="4" fill="#333" font-weight="bold" text-anchor="middle">54000</text>
<text x="138.0" y="452.7" font-size="4" fill="#333" font-weight="bold" text-anchor="middle">54000</text>
<text x="178.0" y="454.7" font-size="4" fill="#333" font-weight="bold" text-anchor="middle">54000</text>
<text x="230.5" y="454.7" font-size="4" fill="#333" font-weight="bold" text-anchor="middle">82000</text>
<text x="293.5" y="454.7" font-size="4" fill="#333" font-weight="bold" text-anchor="middle">82000</text>
<text x="347.8" y="454.7" font-size="4" fill="#333" font-weight="bold" text-anchor="middle">59000</text>
<path d="M38.5,485 Q95,510 157,503.4 L380,503.4" fill="none" stroke="#ff5a5a" stroke-width="0.8"/>
<path d="M36,491 Q95,518 157,511.3 L380,511.3" fill="none" stroke="#ff5a5a" stroke-width="0.8"/>
<path d="M30,486 Q95,515 157,507.3 L385,507.3" fill="none" stroke="#52d452" stroke-width="0.5" stroke-dasharray="3,1.5"/>
<rect x="29.2" y="483.2" width="7.6" height="7.6" fill="#eef0ff" stroke="#4a4af0" stroke-width="0.8"/>
<circle cx="33" cy="487" r="2.2" fill="none" stroke="#6a6af0" stroke-width="0.5"/>
<path d="M30,484 L36,490 M36,484 L30,490" stroke="#8a8af0" stroke-width="0.35"/>
<rect x="71.2" y="496.7" width="7.6" height="7.6" fill="#eef0ff" stroke="#4a4af0" stroke-width="0.8"/>
<circle cx="75" cy="500.5" r="2.2" fill="none" stroke="#6a6af0" stroke-width="0.5"/>
<path d="M72,497.5 L78,503.5 M78,497.5 L72,503.5" stroke="#8a8af0" stroke-width="0.35"/>
<rect x="112.2" y="502.2" width="7.6" height="7.6" fill="#eef0ff" stroke="#4a4af0" stroke-width="0.8"/>
<circle cx="116" cy="506" r="2.2" fill="none" stroke="#6a6af0" stroke-width="0.5"/>
<path d="M113,503 L119,509 M119,503 L113,509" stroke="#8a8af0" stroke-width="0.35"/>
<rect x="153.2" y="503.4" width="7.6" height="7.6" fill="#eef0ff" stroke="#4a4af0" stroke-width="0.8"/>
<circle cx="157" cy="507.2" r="2.2" fill="none" stroke="#6a6af0" stroke-width="0.5"/>
<path d="M154,504.2 L160,510.2 M160,504.2 L154,510.2" stroke="#8a8af0" stroke-width="0.35"/>
<rect x="195.2" y="503.4" width="7.6" height="7.6" fill="#eef0ff" stroke="#4a4af0" stroke-width="0.8"/>
<circle cx="199" cy="507.2" r="2.2" fill="none" stroke="#6a6af0" stroke-width="0.5"/>
<path d="M196,504.2 L202,510.2 M202,504.2 L196,510.2" stroke="#8a8af0" stroke-width="0.35"/>
<rect x="258.2" y="503.4" width="7.6" height="7.6" fill="#eef0ff" stroke="#4a4af0" stroke-width="0.8"/>
<circle cx="262" cy="507.2" r="2.2" fill="none" stroke="#6a6af0" stroke-width="0.5"/>
<path d="M259,504.2 L265,510.2 M265,504.2 L259,510.2" stroke="#8a8af0" stroke-width="0.35"/>
<rect x="321.2" y="503.4" width="7.6" height="7.6" fill="#eef0ff" stroke="#4a4af0" stroke-width="0.8"/>
<circle cx="325" cy="507.2" r="2.2" fill="none" stroke="#6a6af0" stroke-width="0.5"/>
<path d="M322,504.2 L328,510.2 M328,504.2 L322,510.2" stroke="#8a8af0" stroke-width="0.35"/>
<rect x="366.7" y="503.4" width="7.6" height="7.6" fill="#eef0ff" stroke="#4a4af0" stroke-width="0.8"/>
<circle cx="370.5" cy="507.2" r="2.2" fill="none" stroke="#6a6af0" stroke-width="0.5"/>
<path d="M367.5,504.2 L373.5,510.2 M373.5,504.2 L367.5,510.2" stroke="#8a8af0" stroke-width="0.35"/>
<line x1="40" y1="527.2" x2="40" y2="536.2" stroke="#5ad85a" stroke-width="0.7" stroke-dasharray="1.5,1.2"/>
<line x1="47" y1="526.36" x2="47" y2="535.36" stroke="#5ad85a" stroke-width="0.7" stroke-dasharray="1.5,1.2"/>
<line x1="55" y1="525.4" x2="55" y2="534.4" stroke="#5ad85a" stroke-width="0.7" stroke-dasharray="1.5,1.2"/>
<line x1="72" y1="523.36" x2="72" y2="532.36" stroke="#5ad85a" stroke-width="0.7" stroke-dasharray="1.5,1.2"/>
<line x1="90" y1="521.2" x2="90" y2="530.2" stroke="#5ad85a" stroke-width="0.7" stroke-dasharray="1.5,1.2"/>
<line x1="105" y1="519.4" x2="105" y2="528.4" stroke="#5ad85a" stroke-width="0.7" stroke-dasharray="1.5,1.2"/>
<line x1="120" y1="517.6" x2="120" y2="526.6" stroke="#5ad85a" stroke-width="0.7" stroke-dasharray="1.5,1.2"/>
<line x1="136" y1="515.68" x2="136" y2="524.68" stroke="#5ad85a" stroke-width="0.7" stroke-dasharray="1.5,1.2"/>
<line x1="150" y1="514.0" x2="150" y2="523.0" stroke="#5ad85a" stroke-width="0.7" stroke-dasharray="1.5,1.2"/>
<line x1="167" y1="514" x2="167" y2="523" stroke="#5ad85a" stroke-width="0.7" stroke-dasharray="1.5,1.2"/>
<line x1="183" y1="514" x2="183" y2="523" stroke="#5ad85a" stroke-width="0.7" stroke-dasharray="1.5,1.2"/>
<line x1="199" y1="514" x2="199" y2="523" stroke="#5ad85a" stroke-width="0.7" stroke-dasharray="1.5,1.2"/>
<line x1="215" y1="514" x2="215" y2="523" stroke="#5ad85a" stroke-width="0.7" stroke-dasharray="1.5,1.2"/>
<line x1="231" y1="514" x2="231" y2="523" stroke="#5ad85a" stroke-width="0.7" stroke-dasharray="1.5,1.2"/>
<line x1="247" y1="514" x2="247" y2="523" stroke="#5ad85a" stroke-width="0.7" stroke-dasharray="1.5,1.2"/>
<line x1="262" y1="514" x2="262" y2="523" stroke="#5ad85a" stroke-width="0.7" stroke-dasharray="1.5,1.2"/>
<line x1="278" y1="514" x2="278" y2="523" stroke="#5ad85a" stroke-width="0.7" stroke-dasharray="1.5,1.2"/>
<line x1="294" y1="514" x2="294" y2="523" stroke="#5ad85a" stroke-width="0.7" stroke-dasharray="1.5,1.2"/>
<line x1="310" y1="514" x2="310" y2="523" stroke="#5ad85a" stroke-width="0.7" stroke-dasharray="1.5,1.2"/>
<line x1="325" y1="514" x2="325" y2="523" stroke="#5ad85a" stroke-width="0.7" stroke-dasharray="1.5,1.2"/>
<line x1="341" y1="514" x2="341" y2="523" stroke="#5ad85a" stroke-width="0.7" stroke-dasharray="1.5,1.2"/>
<line x1="357" y1="514" x2="357" y2="523" stroke="#5ad85a" stroke-width="0.7" stroke-dasharray="1.5,1.2"/>
<line x1="370" y1="514" x2="370" y2="523" stroke="#5ad85a" stroke-width="0.7" stroke-dasharray="1.5,1.2"/>
<line x1="383" y1="514" x2="383" y2="523" stroke="#5ad85a" stroke-width="0.7" stroke-dasharray="1.5,1.2"/>
<line x1="22" y1="466" x2="38" y2="438" stroke="#52d452" stroke-width="0.5" stroke-dasharray="1,0.8"/>
<line x1="100" y1="480" x2="100" y2="460" stroke="#52d452" stroke-width="0.5" stroke-dasharray="1,0.8"/>
<line x1="155" y1="480" x2="155" y2="460" stroke="#52d452" stroke-width="0.5" stroke-dasharray="1,0.8"/>
<text x="187.8" y="532.6" font-size="7.6" fill="#2a2a2a" textLength="21.3" lengthAdjust="spacingAndGlyphs">平面図</text>
<text x="16.2" y="70.3" font-size="27" font-weight="bold" font-family="Liberation Sans, sans-serif" fill="#fff" stroke="#fff" stroke-width="3.4" stroke-linejoin="round">N</text>
<text x="34.0" y="70.3" font-size="36.5" font-weight="bold" font-family="Liberation Sans, sans-serif" fill="#fff" stroke="#fff" stroke-width="3.4" stroke-linejoin="round">a</text>
<text x="54.6" y="70.3" font-size="27" font-weight="bold" font-family="Liberation Sans, sans-serif" fill="#fff" stroke="#fff" stroke-width="3.4" stroke-linejoin="round">R</text>
<text x="73.2" y="70.3" font-size="27" font-weight="bold" font-family="Liberation Sans, sans-serif" fill="#fff" stroke="#fff" stroke-width="3.4" stroke-linejoin="round">D</text>
<text x="92.2" y="70.3" font-size="27" font-weight="bold" font-family="Liberation Sans, sans-serif" fill="#fff" stroke="#fff" stroke-width="3.4" stroke-linejoin="round" textLength="22.3" lengthAdjust="spacingAndGlyphs">A</text>
<text x="16.2" y="70.3" font-size="27" font-weight="bold" font-family="Liberation Sans, sans-serif" fill="#5b8c2f" stroke="#5b8c2f" stroke-width="0.9" stroke-linejoin="round">N</text>
<text x="34.0" y="70.3" font-size="36.5" font-weight="bold" font-family="Liberation Sans, sans-serif" fill="#5b8c2f" stroke="#5b8c2f" stroke-width="0.9" stroke-linejoin="round">a</text>
<text x="54.6" y="70.3" font-size="27" font-weight="bold" font-family="Liberation Sans, sans-serif" fill="#5b8c2f" stroke="#5b8c2f" stroke-width="0.9" stroke-linejoin="round">R</text>
<text x="73.2" y="70.3" font-size="27" font-weight="bold" font-family="Liberation Sans, sans-serif" fill="#5b8c2f" stroke="#5b8c2f" stroke-width="0.9" stroke-linejoin="round">D</text>
<text x="92.2" y="70.3" font-size="27" font-weight="bold" font-family="Liberation Sans, sans-serif" fill="#5b8c2f" stroke="#5b8c2f" stroke-width="0.9" stroke-linejoin="round" textLength="22.3" lengthAdjust="spacingAndGlyphs">A</text>
<path d="M40.5,52 L46.5,46.2 L53,52 Z" fill="#5b8c2f" stroke="#fff" stroke-width="1.2" stroke-linejoin="round"/>
<path d="M40.5,52 L46.5,46.2 L53,52 Z" fill="#5b8c2f"/>
<circle cx="50.2" cy="46.3" r="2" fill="#ee7a1e"/>
<text x="17.3" y="80.7" font-size="5.6" font-weight="bold" font-family="Liberation Sans, sans-serif" fill="#fff" stroke="#fff" stroke-width="1.6" textLength="97" lengthAdjust="spacingAndGlyphs">National Resilience Design Award</text>
<text x="17.3" y="80.7" font-size="5.6" font-weight="bold" font-family="Liberation Sans, sans-serif" fill="#ee8a2a" textLength="97" lengthAdjust="spacingAndGlyphs">National Resilience Design Award</text>
</svg>
<div class="t" id="L0" style="left:28.3px;top:116.80px;font-size:7.5px;letter-spacing:-0.308px;">本橋梁は、既存の地域高規格道路のミッシン<b>グリンクを解消するために新設する道路の高架橋</b>であり、架橋地</div>
<div class="t" id="L1" style="left:21px;top:130.80px;font-size:7.5px;letter-spacing:-0.310px;">域の自立的発展や地域間の連携を担う<b>重要な土木インフラ</b>である。</div>
<div class="t" id="L2" style="left:28.3px;top:144.70px;font-size:7.5px;letter-spacing:-0.333px;">特徴として、<b>既成市街地を横断する跨道橋</b>となることから、橋脚の配置の制約が大きく、<b>長支間の桁橋形式</b>が</div>
<div class="t" id="L3" style="left:21px;top:158.50px;font-size:7.5px;letter-spacing:-0.306px;">採用されている点が挙げられる。さらに、<b>隣接橋の移動量が大きく衝突する可能性があった</b>ため、それを回避す</div>
<div class="t" id="L4" style="left:21px;top:172.50px;font-size:7.5px;letter-spacing:-0.220px;">る必要があった。このような条件を実現するために<b><span class="en">Engineer’s Studio®</span>を用いて設計</b>を行った。</div>
<div class="t" id="L5" style="left:28.3px;top:210.20px;font-size:7.5px;letter-spacing:-0.306px;">本橋梁は桁橋ながら<b>最大支間長が <span class="en">82m</span> と長く</b>、<b>免震支承によるエネルギー吸収を期待する設計</b>が求められ</div>
<div class="t" id="L6" style="left:21px;top:221.90px;font-size:7.5px;letter-spacing:-0.263px;">たため、<b><span class="en">Engineer’s Studio®</span>を用いて動的非線形解析</b>を実施した。</div>
<div class="t" id="L7" style="left:34.5px;top:243.20px;font-size:6.6px;letter-spacing:0.600px;">&lt;構造諸元&gt;</div>
<div class="t" id="L8" style="left:33px;top:255.40px;font-size:6.6px;letter-spacing:0.214px;">・橋梁形式：鋼７径間連続箱桁橋</div>
<div class="t" id="L9" style="left:33px;top:268.60px;font-size:6.6px;letter-spacing:0.387px;">・支間長 <span class="en">L=56m + 3×54m + 2×82m + 59m</span></div>
<div class="t" id="L10" style="left:33px;top:281.80px;font-size:6.6px;letter-spacing:0.289px;">・上部工形式：鋼箱桁</div>
<div class="t" id="L11" style="left:33px;top:295.20px;font-size:6.6px;letter-spacing:0.218px;">・下部工形式：張出式橋脚</div>
<div class="t" id="L12" style="left:184.5px;top:242.80px;font-size:6.6px;letter-spacing:0.083px;">&lt;<span class="en">Engineer’s Studio®</span>モデル諸元&gt;</div>
<div class="t" id="L13" style="left:183px;top:255.60px;font-size:6.6px;letter-spacing:0.083px;">・解析種別：動的非線形解析</div>
<div class="t" id="L14" style="left:183px;top:269.00px;font-size:6.6px;letter-spacing:0.172px;">・荷重：<span class="en">H29</span> 年道路橋示方書のレベル２地震動標準加速度波形</div>
<div class="t" id="L15" style="left:210px;top:282.20px;font-size:6.6px;letter-spacing:0.231px;">(Ⅰ種地盤とⅡ種地盤が混在)</div>
<div class="t" id="L16" style="left:183px;top:295.40px;font-size:6.6px;letter-spacing:0.222px;">・上部工：弾性梁要素</div>
<div class="t" id="L17" style="left:183px;top:307.90px;font-size:6.6px;letter-spacing:0.286px;">・支承：免震支承</div>
<div class="t" id="L18" style="left:183px;top:320.70px;font-size:6.6px;letter-spacing:0.300px;">・下部工：M-φ 要素</div>
<div class="t" id="L19" style="left:403.75px;top:226.70px;font-size:7.5px;letter-spacing:-0.141px;"><b>&lt;動的解析を用いることによる工夫点&gt;</b></div>
<div class="t" id="L20" style="left:402.2px;top:242.60px;font-size:7.5px;letter-spacing:-0.144px;">・動的解析により、<b>免震支承のエネルギー吸収</b>と<b>長周期化の影響</b>を正確に考慮して解析。</div>
<div class="t" id="L21" style="left:405.5px;top:367.40px;font-size:7.5px;letter-spacing:-0.077px;"><b>&lt;隣接橋の制約による工夫点&gt;</b></div>
<div class="t" id="L22" style="left:405.2px;top:381.20px;font-size:7.5px;letter-spacing:-0.312px;">・橋軸方向は<b>隣接橋の移動量に合わせ支承選定</b>を実施。起点側は移動量が大きいため<b>可動支承を用いるように</b></div>
<div class="t" id="L23" style="left:412.5px;top:395.40px;font-size:7.5px;letter-spacing:-0.229px;"><b>変更</b>し、<b>支承のコンパクト化(経済性)</b>を図った。終点側は移動量が小さいため免震支承のまま選定を実施。</div>
<div class="t" id="L24" style="left:410.5px;top:409.40px;font-size:7.5px;letter-spacing:-0.125px;">それにより<b>伸縮装置の小型化</b>も実現。</div>
<div class="t" id="L25" style="left:405.2px;top:423.70px;font-size:7.5px;letter-spacing:-0.306px;">・直角方向にはランプ橋が並行し、衝突しないようにする必要があったため、<b>①端部の支承のみ直角方向を固定</b></div>
<div class="t" id="L26" style="left:410px;top:437.40px;font-size:7.5px;letter-spacing:-0.158px;"><b>②全支承の直角方向を固定</b>　の２案を検討。</div>
<div class="t" id="L27" style="left:407.5px;top:451.20px;font-size:7.5px;letter-spacing:-0.184px;"><span class="jp">→</span>いずれも衝突は回避可能となったが、<b>橋脚への反力分配が最適となった案①を採用</b>。</div>
<div class="t" id="L28" style="left:410px;top:489.20px;font-size:7.5px;letter-spacing:-0.306px;">架橋地点の制約により<b>桁橋としては長支間</b>となり、<b>隣接橋との衝突回避</b>が求められ、厳しい条件であったが、免</div>
<div class="t" id="L29" style="left:403px;top:503.00px;font-size:7.5px;letter-spacing:-0.306px;">震橋を採用した結果、<b>橋梁形式や上下部工配置計画は当初計画から大きく変更せずに設計を行うことができた。</b></div>
<div class="t" id="L30" style="left:410px;top:516.80px;font-size:7.5px;letter-spacing:-0.286px;">また、付属部材を小型化したことで、<b>施工から維持管理までライフサイクル全体のコスト削減</b>にも寄与すること</div>
<div class="t" id="L31" style="left:403px;top:531.40px;font-size:7.5px;letter-spacing:-0.500px;"><b>ができた。</b></div>

<div id="band" class="a"></div>
<div id="foot" class="a"></div>
</body></html>
